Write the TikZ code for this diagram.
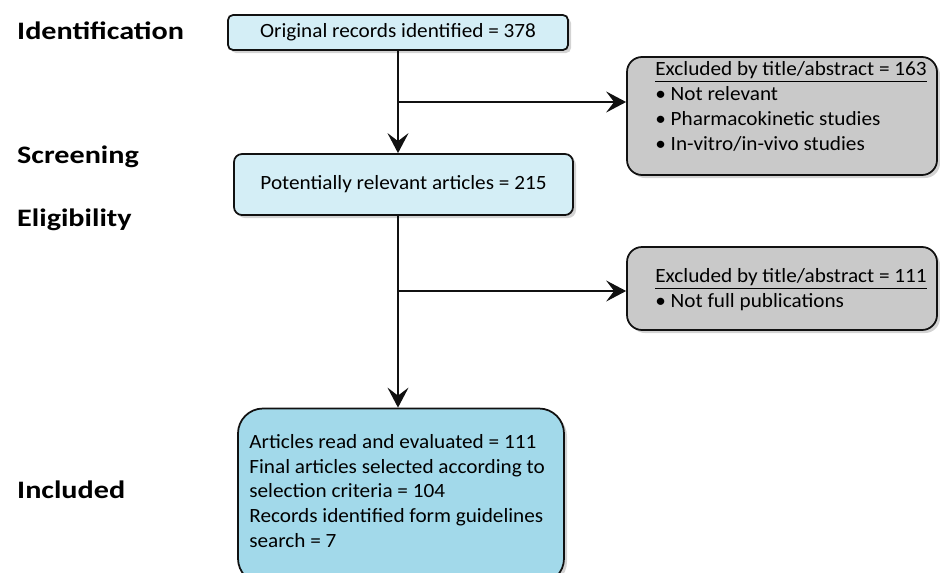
\documentclass[tikz,border=0pt]{standalone}
\usepackage{fontspec}
\setmainfont{Carlito}[FakeStretch=1.05]
\newfontfamily\labfont{Carlito}[FakeStretch=1.2]
\usetikzlibrary{arrows.meta,positioning,shadows}
\usepackage{xcolor}
\definecolor{Ink}{HTML}{111111}
\definecolor{Pale}{HTML}{D4EEF6}
\definecolor{Sky}{HTML}{A2D9EA}
\definecolor{Ash}{HTML}{C9C9C9}

\begin{document}
\begin{tikzpicture}[x=0.2mm,y=-0.2mm, bx/.style={draw=Ink,line width=1pt,drop shadow={opacity=0.35,shadow xshift=0.6mm,shadow yshift=-0.6mm}},
  t/.style={font=\fontsize{11.5}{14.2}\selectfont,align=left,inner sep=0pt}, lab/.style={font=\labfont\fontsize{14.3}{17}\selectfont\bfseries,anchor=west},
  a/.style={-{Stealth[length=4mm,width=4.2mm,inset=1.6mm]},line width=1.1pt,draw=Ink}]
    \useasboundingbox (0,0) rectangle (940,572);
    % stage labels
    \node[lab] (l1) at (11,31) {Identification}; \node[lab] (l2) at (11,157) {Screening};
    \node[lab] (l3) at (11,220) {Eligibility}; \node[lab] (l4) at (11,490) {Included};
    % boxes
    \node[bx,fill=Pale,rounded corners=1mm,minimum width=68mm,minimum height=7mm,t] (o) at (398,32.5) {Original records identified = 378};
    \node[bx,fill=Ash,rounded corners=3mm,minimum width=62mm,minimum height=23.6mm] (x1) at (782,116) {};
    \node[t,anchor=west] (x1t) at (655,106) {\underline{Excluded by title/abstract = 163}\\\textbullet{} Not relevant\\\textbullet{} Pharmacokinetic studies\\\textbullet{} In-vitro/in-vivo studies};
    \node[bx,fill=Pale,rounded corners=1.6mm,minimum width=67.8mm,minimum height=12.2mm,t] (p) at (403.5,184.5) {Potentially relevant articles = 215};
    \node[bx,fill=Ash,rounded corners=3mm,minimum width=62mm,minimum height=16.6mm] (x2) at (782,288.5) {};
    \node[t,anchor=west] (x2t) at (655,290) {\underline{Excluded by title/abstract = 111}\\\textbullet{} Not full publications};
    \node[bx,fill=Sky,rounded corners=5mm,minimum width=65.2mm,minimum height=35mm] (f) at (401,496) {};
    \node[t,anchor=west] (ft) at (249,491) {Articles read and evaluated = 111\\Final articles selected according to\\selection criteria = 104\\Records identified form guidelines\\search = 7};
    % connectors
    \coordinate (b1) at (o.south |- 0,102); \coordinate (b2) at (o.south |- 0,291);
    \draw[a] (o.south) -- (o.south |- p.north); \draw[a] (b1) -- (b1 -| x1.west);
    \draw[a] (o.south |- p.south) -- (o.south |- f.north); \draw[a,line width=0.6pt] (b2) -- (b2 -| x2.west);
\end{tikzpicture}
\end{document}
